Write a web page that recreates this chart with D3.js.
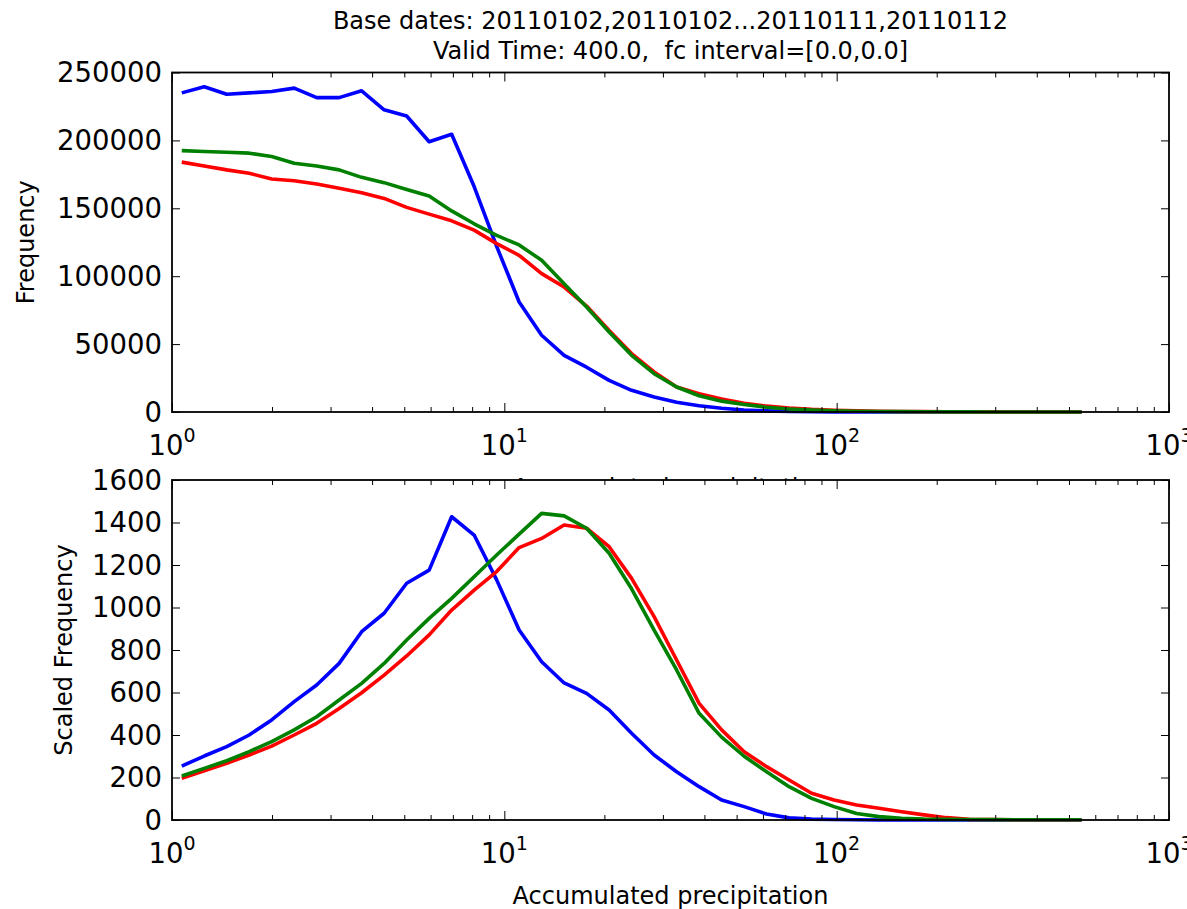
<!DOCTYPE html>
<html>
<head>
<meta charset="utf-8">
<script src="https://cdn.jsdelivr.net/npm/d3@7"></script>
<style>
  body { margin: 0; background: #fff; }
  text { font-family: "DejaVu Sans", "Bitstream Vera Sans", sans-serif; fill: #000; white-space: pre; }
</style>
</head>
<body>
<svg id="chart" width="1187" height="909"></svg>
<script>
// Bin centres of accumulated precipitation (log-spaced)
const precip = [1.070, 1.250, 1.461, 1.707, 1.995, 2.332, 2.725, 3.184, 3.721, 4.348,
  5.083, 5.940, 6.942, 8.112, 9.482, 11.08, 12.95, 15.13, 17.68, 20.67,
  24.15, 28.23, 32.99, 38.56, 45.06, 52.67, 61.53, 71.92, 84.05, 98.22,
  114.8, 134.1, 156.8, 183.2, 214.1, 250.2, 292.4, 341.8, 399.4, 466.8, 545.5];

// Raw frequency per bin
const freqBlue = [235000, 239500, 234000, 235000, 236000, 238500, 231500, 231500, 236500, 222500,
  218000, 199000, 204500, 166000, 122000, 81000, 56500, 41700, 33000, 23300,
  16000, 11000, 7200, 4600, 2800, 1500, 800, 400, 200, 100,
  60, 40, 30, 20, 15, 10, 8, 6, 4, 3, 2];
const freqGreen = [192500, 191800, 191300, 190600, 188100, 183200, 181200, 178300, 172800, 168900,
  163900, 159000, 148100, 138600, 130000, 123000, 111700, 94500, 77300, 58900,
  41700, 28200, 18400, 12000, 8000, 5500, 3500, 2200, 1400, 900,
  600, 400, 250, 150, 100, 60, 40, 30, 20, 15, 10];
const freqRed = [184000, 181200, 178300, 175800, 171600, 170300, 167900, 164700, 161500, 157300,
  150700, 145700, 140800, 133900, 124000, 115400, 101900, 92000, 78000, 60000,
  43000, 29500, 18400, 13500, 9500, 6500, 4300, 2900, 1900, 1300,
  900, 600, 400, 250, 150, 100, 60, 40, 25, 15, 10];

// Frequency scaled by bin value
const scaledBlue = [254, 301, 345, 400, 471, 557, 635, 737, 886, 973,
  1114, 1176, 1427, 1341, 1130, 894, 745, 645, 596, 518,
  408, 306, 227, 157, 94, 63, 28, 10, 4, 2,
  1, 0, 0, 0, 0, 0, 0, 0, 0, 0, 0];
const scaledGreen = [207, 243, 279, 322, 369, 424, 486, 565, 643, 737,
  847, 949, 1043, 1145, 1247, 1345, 1443, 1431, 1373, 1255,
  1088, 894, 706, 502, 390, 300, 227, 157, 102, 63,
  31, 16, 8, 4, 3, 2, 2, 1, 1, 1, 1];
const scaledRed = [196, 232, 267, 306, 348, 400, 455, 525, 599, 682,
  772, 871, 988, 1082, 1169, 1282, 1325, 1388, 1373, 1286,
  1137, 957, 753, 549, 424, 321, 251, 188, 126, 94,
  71, 55, 39, 24, 11, 3, 2, 1, 1, 1, 1];

// Tick values
const xDecades = [0, 1, 2, 3];
const yTicksTop = [0, 50000, 100000, 150000, 200000, 250000];
const yTicksBottom = [0, 200, 400, 600, 800, 1000, 1200, 1400, 1600];

const titleLines = ["Base dates: 20110102,20110102...20110111,20110112",
                    "Valid Time: 400.0,  fc interval=[0.0,0.0]"];
const xLabel = "Accumulated precipitation";

const svg = d3.select("#chart");
const left = 172, right = 1169;
const x = d3.scaleLog().domain([1, 1000]).range([left, right]);

const majorX = xDecades.map(d => Math.pow(10, d));
const minorX = [];
for (let d = 0; d < 3; d++) for (let m = 2; m <= 9; m++) minorX.push(m * Math.pow(10, d));

const colours = { blue: "#0000ff", green: "#008000", red: "#ff0000" };

// Two-line title
titleLines.forEach((t, i) => {
  svg.append("text").attr("x", (left + right) / 2).attr("y", 29 + i * 30)
    .attr("text-anchor", "middle").attr("xml:space", "preserve")
    .style("font-size", "24px").text(t);
});

function panel(top, bottom, yMax, yTicks, series, yLabel, yLabelX) {
  const y = d3.scaleLinear().domain([0, yMax]).range([bottom, top]);
  const g = svg.append("g");

  // white plotting area
  g.append("rect").attr("x", left).attr("y", top)
    .attr("width", right - left).attr("height", bottom - top).attr("fill", "#fff");

  // data lines
  const line = d3.line().x((d, i) => x(precip[i])).y(d => y(d));
  series.forEach(s => {
    g.append("path").datum(s.values)
      .attr("d", line).attr("fill", "none")
      .attr("stroke", s.colour).attr("stroke-width", 3.6)
      .attr("stroke-linejoin", "round").attr("stroke-linecap", "butt");
  });

  // inward ticks on all four sides
  const tickStyle = sel => { sel.select(".domain").remove(); sel.selectAll("line").attr("stroke", "#000").attr("stroke-width", 1); };
  g.append("g").attr("transform", `translate(0,${bottom})`)
    .call(d3.axisBottom(x).tickValues(majorX).tickSize(-9).tickFormat("")).call(tickStyle);
  g.append("g").attr("transform", `translate(0,${bottom})`)
    .call(d3.axisBottom(x).tickValues(minorX).tickSize(-5).tickFormat("")).call(tickStyle);
  g.append("g").attr("transform", `translate(0,${top})`)
    .call(d3.axisTop(x).tickValues(majorX).tickSize(-9).tickFormat("")).call(tickStyle);
  g.append("g").attr("transform", `translate(0,${top})`)
    .call(d3.axisTop(x).tickValues(minorX).tickSize(-5).tickFormat("")).call(tickStyle);
  g.append("g").attr("transform", `translate(${left},0)`)
    .call(d3.axisLeft(y).tickValues(yTicks).tickSize(-8).tickFormat("")).call(tickStyle);
  g.append("g").attr("transform", `translate(${right},0)`)
    .call(d3.axisRight(y).tickValues(yTicks).tickSize(-8).tickFormat("")).call(tickStyle);

  // frame
  g.append("rect").attr("x", left).attr("y", top)
    .attr("width", right - left).attr("height", bottom - top)
    .attr("fill", "none").attr("stroke", "#000").attr("stroke-width", 1.8);

  // y tick labels
  g.selectAll(".ylab").data(yTicks).enter().append("text")
    .attr("x", left - 10).attr("y", d => y(d)).attr("dy", "0.36em")
    .attr("text-anchor", "end").style("font-size", "27.5px").text(d => d);

  // x tick labels: 10^n
  xDecades.forEach(d => {
    const t = g.append("text").attr("x", x(Math.pow(10, d))).attr("y", bottom + 43)
      .attr("text-anchor", "middle").style("font-size", "27.5px");
    t.append("tspan").text("10");
    t.append("tspan").attr("dy", -13).style("font-size", "19px").text(d);
  });

  // y label
  g.append("text").attr("transform", `translate(${yLabelX},${(top + bottom) / 2}) rotate(-90)`)
    .attr("text-anchor", "middle").style("font-size", "24px").text(yLabel);

  // x label
  g.append("text").attr("x", (left + right) / 2).attr("y", bottom + 84)
    .attr("text-anchor", "middle").style("font-size", "24px").text(xLabel);
}

panel(72.5, 412, 250000, yTicksTop, [
  { values: freqBlue, colour: colours.blue },
  { values: freqRed, colour: colours.red },
  { values: freqGreen, colour: colours.green }
], "Frequency", 34);

panel(480, 820, 1600, yTicksBottom, [
  { values: scaledBlue, colour: colours.blue },
  { values: scaledRed, colour: colours.red },
  { values: scaledGreen, colour: colours.green }
], "Scaled Frequency", 72);
</script>
</body>
</html>
